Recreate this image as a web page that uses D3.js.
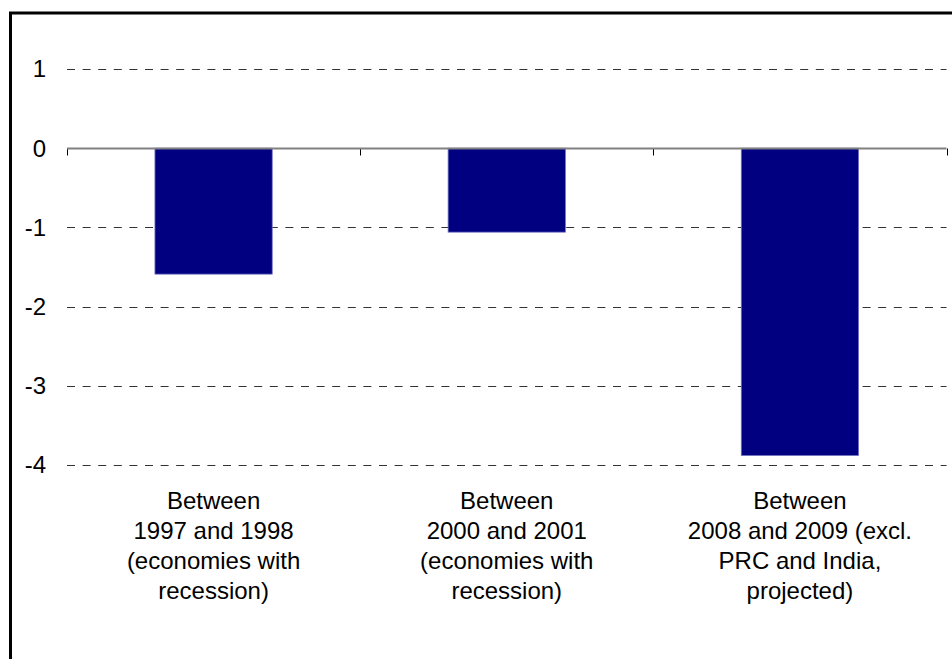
<!DOCTYPE html>
<html><head><meta charset="utf-8">
<script src="https://cdn.jsdelivr.net/npm/d3@7"></script>
<style>html,body{margin:0;padding:0;background:#fff;}svg{display:block;}</style>
</head><body>
<script>
const categories = ["c1","c2","c3"];
const categoryLabels = [
  ["Between","1997 and 1998","(economies with","recession)"],
  ["Between","2000 and 2001","(economies with","recession)"],
  ["Between","2008 and 2009 (excl.","PRC and India,","projected)"]
];
const values = [-1.59, -1.06, -3.88];
const yTicks = [1, 0, -1, -2, -3, -4];

const W = 952, H = 659;
const svg = d3.select("body").append("svg").attr("width", W).attr("height", H);
svg.append("rect").attr("width", W).attr("height", H).attr("fill", "#fff");
svg.append("rect").attr("x", 10.5).attr("y", 13).attr("width", 960).attr("height", 700)
  .attr("fill", "none").attr("stroke", "#000").attr("stroke-width", 3);

const x = d3.scaleBand().domain(categories).range([67, 946.5]).padding(0);
const y = d3.scaleLinear().domain([-4, 1]).range([465, 69]);
const font = "'Liberation Sans', Arial, sans-serif";
const fs = 24;

// gridlines
svg.append("g").selectAll("line").data(yTicks.filter(d => d !== 0)).join("line")
  .attr("x1", 67).attr("x2", 946.5)
  .attr("y1", d => Math.round(y(d)) + 0.5).attr("y2", d => Math.round(y(d)) + 0.5)
  .attr("stroke", "#333").attr("stroke-width", 1).attr("stroke-dasharray", "8,7.6");

// bars
svg.append("g").selectAll("rect").data(values).join("rect")
  .attr("x", (d, i) => x(categories[i]) + x.bandwidth() * 0.3)
  .attr("width", x.bandwidth() * 0.4)
  .attr("y", d => y(Math.max(0, d)))
  .attr("height", d => Math.abs(y(d) - y(0)))
  .attr("fill", "#000080").attr("stroke", "#7070c0").attr("stroke-width", 0.8);

// zero axis with category-boundary ticks
const gx = svg.append("g").attr("transform", `translate(0,${Math.round(y(0)) + 0.5})`);
const bounds = categories.map(c => x(c)).concat([x(categories[categories.length-1]) + x.bandwidth()]);
gx.selectAll("line.tk").data(bounds).join("line").attr("class","tk")
  .attr("x1", d => Math.round(d) + 0.5).attr("x2", d => Math.round(d) + 0.5)
  .attr("y1", 0).attr("y2", 7).attr("stroke", "#000").attr("stroke-width", 1);
gx.append("line").attr("x1", 67).attr("x2", 946.5).attr("y1", 0).attr("y2", 0)
  .attr("stroke", "#808080").attr("stroke-width", 2);

// y labels
svg.append("g").selectAll("text").data(yTicks).join("text")
  .attr("x", 46).attr("y", d => y(d)).attr("dy", "0.35em")
  .attr("text-anchor", "end").attr("font-family", font).attr("font-size", fs)
  .attr("fill", "#000").text(d => d);

// category labels
const lab = svg.append("g").selectAll("text").data(categoryLabels).join("text")
  .attr("text-anchor", "middle").attr("font-family", font).attr("font-size", fs).attr("fill", "#000")
  .attr("transform", (d, i) => `translate(${x(categories[i]) + x.bandwidth() / 2},0)`);
lab.selectAll("tspan").data(d => d).join("tspan")
  .attr("x", 0).attr("y", (d, j) => 509 + j * 30).text(d => d);
</script>
</body></html>
